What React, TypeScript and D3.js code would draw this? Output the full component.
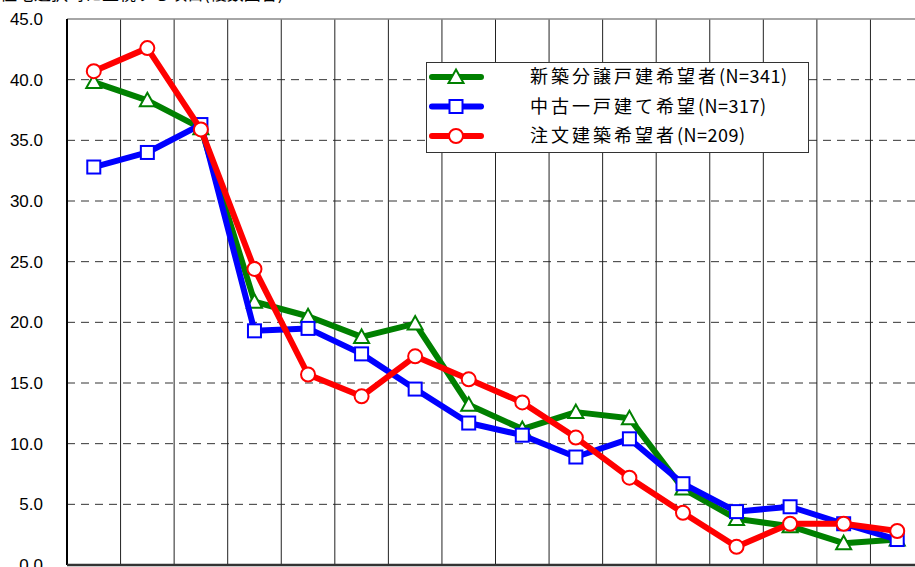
import * as d3 from "d3";

// categories are cut off below the visible area in the reference
const categories = d3.range(1, 17).map((i) => String(i));
const yTicks = [0, 5, 10, 15, 20, 25, 30, 35, 40, 45];

const newBuilt = [39.8, 38.3, 36.0, 21.7, 20.5, 18.8, 19.9, 13.2, 11.2, 12.6, 12.1, 6.3, 3.8, 3.2, 1.8, 2.1];
const usedHouse = [32.8, 34.0, 36.3, 19.3, 19.5, 17.4, 14.5, 11.7, 10.7, 8.9, 10.4, 6.7, 4.4, 4.8, 3.4, 2.1];
const custom = [40.7, 42.6, 35.9, 24.4, 15.7, 13.9, 17.2, 15.3, 13.4, 10.5, 7.2, 4.3, 1.5, 3.4, 3.4, 2.8];

const seriesNames = ["新築分譲戸建希望者", "中古一戸建て希望", "注文建築希望者"];
const seriesCounts = ["(N=341)", "(N=317)", "(N=209)"];
const seriesColors = ["#008000", "#0000ff", "#ff0000"];
const seriesMarkers = ["triangle", "square", "circle"];

const W = 915;
const H = 567;
const LEFT = 67;
const RIGHT = 924;
const TOP = 19;
const BOTTOM = 565;

const x = d3.scaleBand<string>().domain(categories).range([LEFT, RIGHT]);
const y = d3.scaleLinear().domain([0, 45]).range([BOTTOM, TOP]);

function Marker({ kind, cx, cy, color }: { kind: string; cx: number; cy: number; color: string }) {
  if (kind === "triangle") {
    const s = 7.5;
    return (
      <path
        d={`M ${cx} ${cy - s} L ${cx + s} ${cy + s * 0.8} L ${cx - s} ${cy + s * 0.8} Z`}
        fill="#fff"
        stroke={color}
        strokeWidth={2}
      />
    );
  }
  if (kind === "square") {
    return <rect x={cx - 6.5} y={cy - 6.5} width={13} height={13} fill="#fff" stroke={color} strokeWidth={2} />;
  }
  return <circle cx={cx} cy={cy} r={7} fill="#fff" stroke={color} strokeWidth={2} />;
}

export default function App() {
  const data = [newBuilt, usedHouse, custom];
  const cx = (c: string) => (x(c) ?? 0) + x.bandwidth() / 2;
  const line = d3
    .line<number>()
    .x((_, i) => cx(categories[i]))
    .y((v) => y(v));

  return (
    <svg
      width={W}
      height={H}
      viewBox={`0 0 ${W} ${H}`}
      style={{ position: "absolute", left: 0, top: 0, fontFamily: "'Liberation Sans', Arial, sans-serif" }}
    >
      <rect width={W} height={H} fill="#fff" />
      {/* title, mostly cut off at the top edge */}
      <text x={0} y={0} fontSize={17} fontFamily="'Noto Sans CJK JP', sans-serif" fill="#000">
        住宅選択時に重視する項目(複数回答)
      </text>

      {/* horizontal dashed grid */}
      {yTicks.slice(1, -1).map((t) => (
        <line key={t} x1={LEFT} x2={RIGHT} y1={y(t)} y2={y(t)} stroke="#333" strokeWidth={1} strokeDasharray="8,6" />
      ))}
      {/* vertical grid */}
      {categories.slice(1).map((c) => (
        <line key={c} x1={x(c)} x2={x(c)} y1={TOP} y2={BOTTOM} stroke="#222" strokeWidth={1} />
      ))}
      <line x1={LEFT} x2={RIGHT} y1={TOP} y2={TOP} stroke="#888" strokeWidth={1.5} />
      <line x1={LEFT} x2={LEFT} y1={TOP} y2={BOTTOM} stroke="#000" strokeWidth={2} />
      <line x1={LEFT} x2={RIGHT} y1={BOTTOM} y2={BOTTOM} stroke="#333" strokeWidth={2.5} />

      {yTicks.map((t) => (
        <text key={t} x={43} y={y(t)} dy="0.36em" textAnchor="end" fontSize={17} fill="#000">
          {t.toFixed(1)}
        </text>
      ))}

      {data.map((vals, si) => (
        <g key={si}>
          <path d={line(vals) ?? ""} fill="none" stroke={seriesColors[si]} strokeWidth={6} strokeLinejoin="round" />
          {vals.map((v, i) => (
            <Marker key={i} kind={seriesMarkers[si]} cx={cx(categories[i])} cy={y(v)} color={seriesColors[si]} />
          ))}
        </g>
      ))}

      {/* legend */}
      <rect x={426.5} y={62.5} width={382} height={90} fill="#fff" stroke="#333" strokeWidth={1} />
      {seriesNames.map((name, si) => {
        const ly = 77 + si * 29.5;
        return (
          <g key={name}>
            <line x1={432} x2={481} y1={ly} y2={ly} stroke={seriesColors[si]} strokeWidth={6} strokeLinecap="round" />
            <Marker kind={seriesMarkers[si]} cx={456} cy={ly} color={seriesColors[si]} />
            <text x={530} y={ly} dy="0.36em" fontSize={18} fontFamily="'Noto Sans CJK JP', sans-serif" fill="#000">
              <tspan letterSpacing={3}>{name}</tspan>
              <tspan letterSpacing={0.5}>{seriesCounts[si]}</tspan>
            </text>
          </g>
        );
      })}
    </svg>
  );
}
